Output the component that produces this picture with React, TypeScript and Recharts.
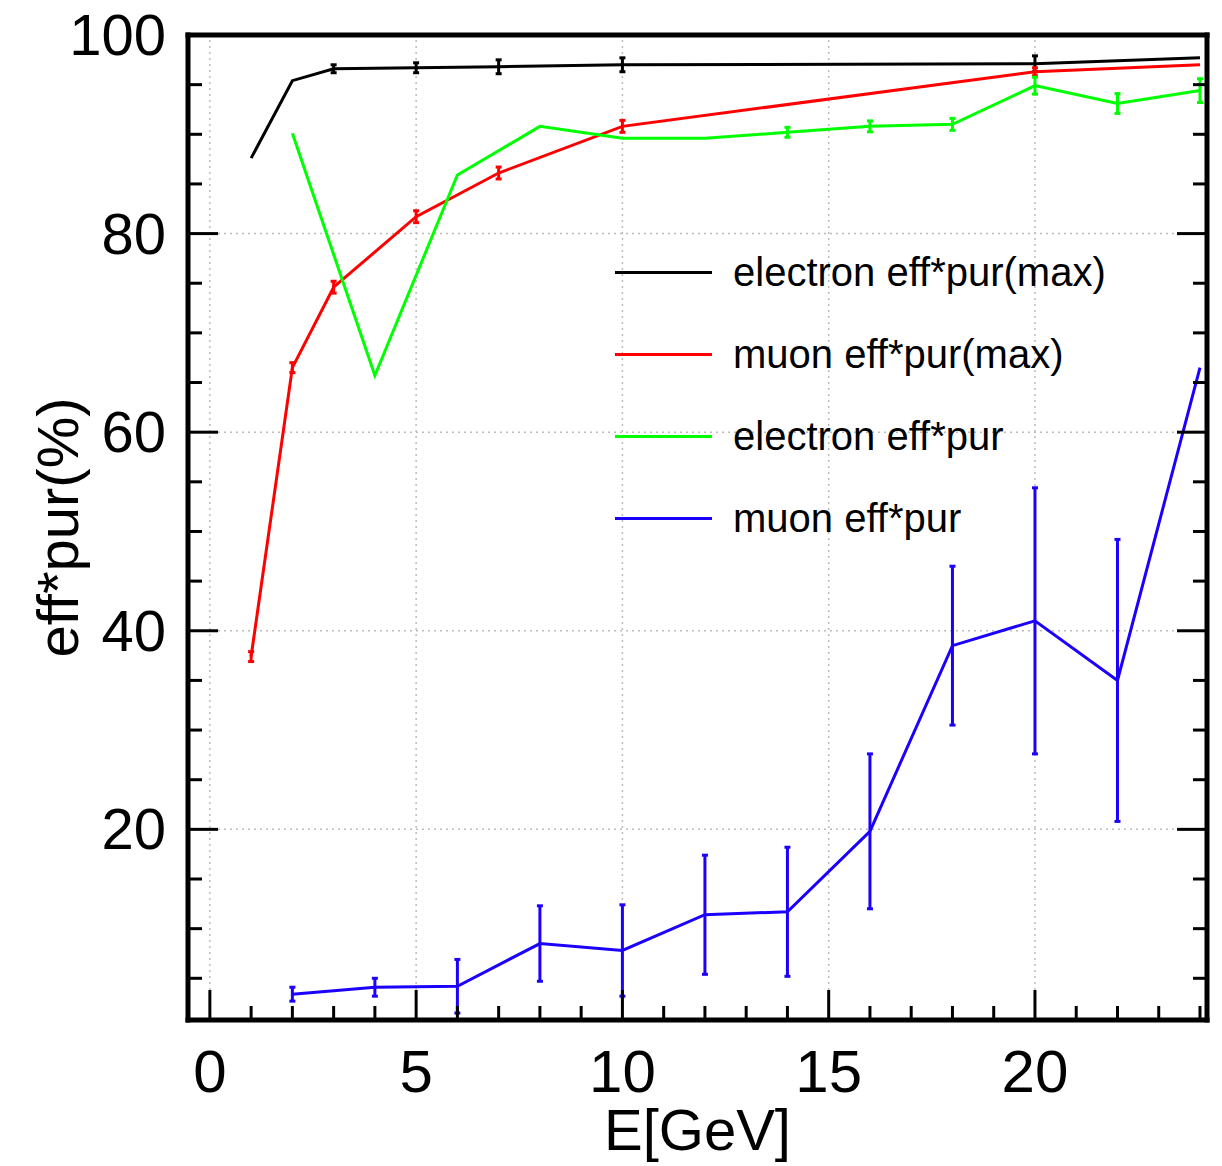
import { ErrorBar, Legend, Line, LineChart, ReferenceLine, XAxis, YAxis } from "recharts";

const FONT = "'Liberation Sans', Arial, Helvetica, sans-serif";

// electron eff*pur(max)
const eMaxX = [1, 2, 3, 5, 7, 10, 20, 24];
const eMaxY = [87.6, 95.4, 96.6, 96.7, 96.8, 97.0, 97.1, 97.7];
const eMaxErr = [0, 0, 0.4, 0.5, 0.7, 0.7, 0.8, 0];

// muon eff*pur(max)
const muMaxX = [1, 2, 3, 5, 7, 10, 20, 24];
const muMaxY = [37.4, 66.5, 74.6, 81.7, 86.1, 90.8, 96.3, 97.0];
const muMaxErr = [0.5, 0.5, 0.6, 0.6, 0.6, 0.6, 0.4, 0];

// electron eff*pur
const eX = [2, 4, 6, 8, 10, 12, 14, 16, 18, 20, 22, 24];
const eY = [90.1, 65.7, 85.9, 90.8, 89.6, 89.6, 90.2, 90.8, 91.0, 94.9, 93.1, 94.4];
const eErr = [0, 0, 0, 0, 0, 0, 0.5, 0.55, 0.6, 0.85, 1.0, 1.2];

// muon eff*pur
const muX = [2, 4, 6, 8, 10, 12, 14, 16, 18, 20, 22, 24];
const muY = [3.4, 4.1, 4.2, 8.5, 7.8, 11.4, 11.7, 19.8, 38.5, 41.0, 35.0, 66.5];
const muErr = [0.7, 0.9, 2.7, 3.8, 4.6, 6.0, 6.5, 7.8, 8.0, 13.4, 14.2, 0];

const seriesNames = ["electron eff*pur(max)", "muon eff*pur(max)", "electron eff*pur", "muon eff*pur"];
const seriesColors = ["#000000", "#ff0000", "#00ff00", "#1c00ff"];

const xTicks = Array.from({ length: 25 }, (_, i) => i);
const yTicks = [5, 10, 15, 20, 25, 30, 35, 40, 45, 50, 55, 60, 65, 70, 75, 80, 85, 90, 95, 100];
const xGrid = [0, 5, 10, 15, 20];
const yGrid = [20, 40, 60, 80];

const toPoints = (xs: number[], ys: number[], errs: number[]) =>
  xs.map((x, i) => ({ x, y: ys[i], err: errs[i] }));

const series = [
  toPoints(eMaxX, eMaxY, eMaxErr),
  toPoints(muMaxX, muMaxY, muMaxErr),
  toPoints(eX, eY, eErr),
  toPoints(muX, muY, muErr),
];

const MAJOR = 30;
const MINOR = 14;

const BottomTick = ({ x, y, payload }: any) => {
  const major = payload.value % 5 === 0;
  return (
    <g>
      <line x1={x} y1={y} x2={x} y2={y - (major ? MAJOR : MINOR)} stroke="#000" strokeWidth={3} />
      {major && (
        <text x={x} y={y + 72} textAnchor="middle" fontSize={60} fontFamily={FONT} fill="#000">
          {payload.value}
        </text>
      )}
    </g>
  );
};

const TopTick = ({ x, y, payload }: any) => {
  const major = payload.value % 5 === 0;
  return <line x1={x} y1={y} x2={x} y2={y + (major ? MAJOR : MINOR)} stroke="#000" strokeWidth={3} />;
};

const LeftTick = ({ x, y, payload }: any) => {
  const major = payload.value % 20 === 0;
  return (
    <g>
      <line x1={x} y1={y} x2={x + (major ? MAJOR : MINOR)} y2={y} stroke="#000" strokeWidth={3} />
      {major && (
        <text x={x - 22} y={y + 20} textAnchor="end" fontSize={58} fontFamily={FONT} fill="#000">
          {payload.value}
        </text>
      )}
    </g>
  );
};

const RightTick = ({ x, y, payload }: any) => {
  const major = payload.value % 20 === 0;
  return <line x1={x} y1={y} x2={x - (major ? MAJOR : MINOR)} y2={y} stroke="#000" strokeWidth={3} />;
};

const LegendBox = () => (
  <div style={{ fontFamily: FONT, fontSize: 40, color: "#000" }}>
    {seriesNames.map((name, i) => (
      <div key={name} style={{ display: "flex", alignItems: "center", height: 82 }}>
        <div style={{ width: 97, height: 3, background: seriesColors[i] }} />
        <span style={{ marginLeft: 21, lineHeight: 1 }}>{name}</span>
      </div>
    ))}
  </div>
);

const frame = { stroke: "#000", strokeWidth: 5, strokeLinecap: "square" as const };

export default function App() {
  return (
    <div style={{ background: "#fff", marginTop: -8 }}>
      <LineChart width={1214} height={1166} margin={{ top: 30, right: 10, bottom: 16, left: 0 }}>
        <XAxis
          xAxisId="x"
          type="number"
          dataKey="x"
          domain={[-0.53, 24.17]}
          allowDataOverflow
          ticks={xTicks}
          interval={0}
          tickSize={0}
          tickMargin={0}
          tickLine={false}
          axisLine={frame}
          tick={BottomTick}
          height={130}
          label={{
            value: "E[GeV]",
            position: "insideBottom",
            offset: 0,
            style: { fontSize: 58, fontFamily: FONT, fill: "#000" },
          }}
        />
        <XAxis
          xAxisId="top"
          orientation="top"
          type="number"
          domain={[-0.53, 24.17]}
          allowDataOverflow
          ticks={xTicks}
          interval={0}
          tickSize={0}
          tickMargin={0}
          tickLine={false}
          axisLine={frame}
          tick={TopTick}
          height={5}
        />
        <YAxis
          yAxisId="left"
          type="number"
          domain={[0.8, 100]}
          allowDataOverflow
          ticks={yTicks}
          interval={0}
          tickSize={0}
          tickMargin={0}
          tickLine={false}
          axisLine={frame}
          tick={LeftTick}
          width={180}
          label={{
            value: "eff*pur(%)",
            angle: -90,
            position: "insideLeft",
            offset: 49,
            style: { textAnchor: "middle", fontSize: 58, fontFamily: FONT, fill: "#000" },
          }}
        />
        <YAxis
          yAxisId="right"
          orientation="right"
          type="number"
          domain={[0.8, 100]}
          allowDataOverflow
          ticks={yTicks}
          interval={0}
          tickSize={0}
          tickMargin={0}
          tickLine={false}
          axisLine={frame}
          tick={RightTick}
          width={5}
        />
        {xGrid.map((v) => (
          <ReferenceLine key={`gx${v}`} xAxisId="x" yAxisId="left" x={v} stroke="#bbbbbb" strokeWidth={1.5} strokeDasharray="2 4" />
        ))}
        {yGrid.map((v) => (
          <ReferenceLine key={`gy${v}`} xAxisId="x" yAxisId="left" y={v} stroke="#bbbbbb" strokeWidth={1.5} strokeDasharray="2 4" />
        ))}
        {series.map((data, i) => (
          <Line
            key={seriesNames[i]}
            xAxisId="x"
            yAxisId="left"
            data={data}
            dataKey="y"
            name={seriesNames[i]}
            type="linear"
            stroke={seriesColors[i]}
            strokeWidth={3}
            dot={false}
            isAnimationActive={false}
          >
            <ErrorBar dataKey="err" direction="y" width={3} stroke={seriesColors[i]} strokeWidth={3} isAnimationActive={false} />
          </Line>
        ))}
        <Legend
          layout="vertical"
          align="center"
          verticalAlign="middle"
          wrapperStyle={{ left: 607, top: 231, width: 580 }}
          content={LegendBox}
        />
      </LineChart>
    </div>
  );
}
